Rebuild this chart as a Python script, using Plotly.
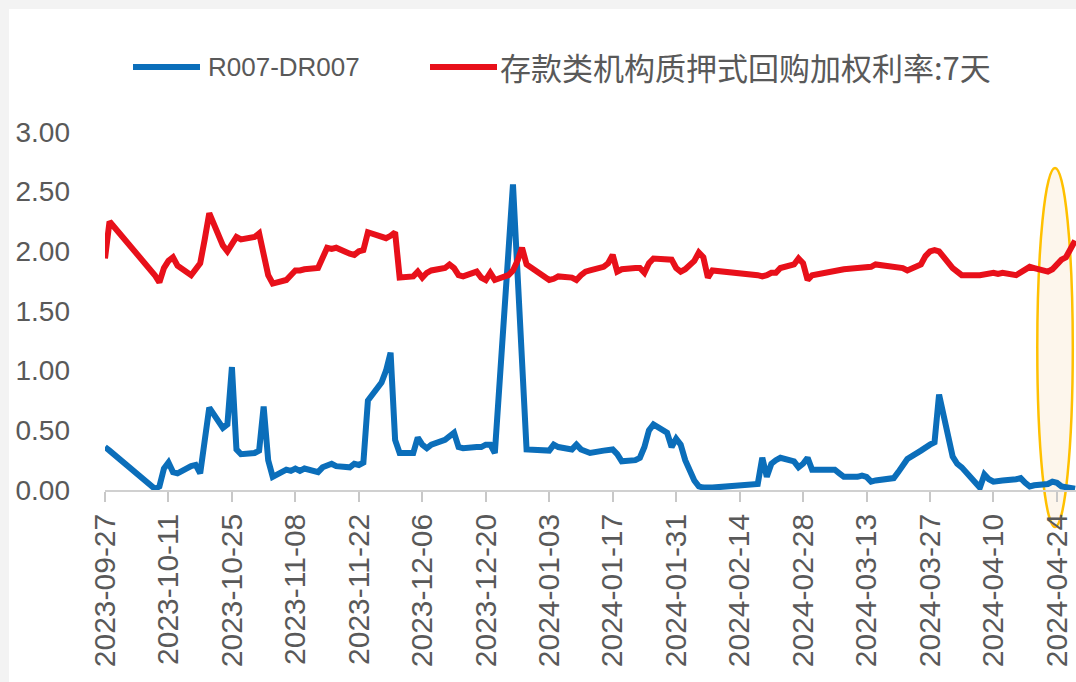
import plotly.graph_objects as go

# ---------------- data ----------------
blue_name = "R007-DR007"
red_name = "存款类机构质押式回购加权利率:7天"

blue_dates = [
    "2023-09-27", "2023-09-28", "2023-10-08", "2023-10-09", "2023-10-10", "2023-10-11",
    "2023-10-12", "2023-10-13", "2023-10-16", "2023-10-17", "2023-10-18", "2023-10-19",
    "2023-10-20", "2023-10-23", "2023-10-24", "2023-10-25", "2023-10-26", "2023-10-27",
    "2023-10-30", "2023-10-31", "2023-11-01", "2023-11-02", "2023-11-03", "2023-11-06",
    "2023-11-07", "2023-11-08", "2023-11-09", "2023-11-10", "2023-11-13", "2023-11-14",
    "2023-11-15", "2023-11-16", "2023-11-17", "2023-11-20", "2023-11-21", "2023-11-22",
    "2023-11-23", "2023-11-24", "2023-11-27", "2023-11-28", "2023-11-29", "2023-11-30",
    "2023-12-01", "2023-12-04", "2023-12-05", "2023-12-06", "2023-12-07", "2023-12-08",
    "2023-12-11", "2023-12-12", "2023-12-13", "2023-12-14", "2023-12-15", "2023-12-18",
    "2023-12-19", "2023-12-20", "2023-12-21", "2023-12-22", "2023-12-26", "2023-12-29",
    "2024-01-02", "2024-01-03", "2024-01-04", "2024-01-05", "2024-01-08", "2024-01-09",
    "2024-01-10", "2024-01-11", "2024-01-12", "2024-01-15", "2024-01-16", "2024-01-17",
    "2024-01-18", "2024-01-19", "2024-01-22", "2024-01-23", "2024-01-24", "2024-01-25",
    "2024-01-26", "2024-01-29", "2024-01-30", "2024-01-31", "2024-02-01", "2024-02-02",
    "2024-02-04", "2024-02-05", "2024-02-06", "2024-02-07", "2024-02-08", "2024-02-18",
    "2024-02-19", "2024-02-20", "2024-02-21", "2024-02-22", "2024-02-23", "2024-02-26",
    "2024-02-27", "2024-02-28", "2024-02-29", "2024-03-01", "2024-03-04", "2024-03-05",
    "2024-03-06", "2024-03-07", "2024-03-08", "2024-03-11", "2024-03-12", "2024-03-13",
    "2024-03-14", "2024-03-15", "2024-03-18", "2024-03-19", "2024-03-20", "2024-03-21",
    "2024-03-22", "2024-03-25", "2024-03-26", "2024-03-27", "2024-03-28", "2024-03-29",
    "2024-04-01", "2024-04-02", "2024-04-03", "2024-04-07", "2024-04-08", "2024-04-09",
    "2024-04-10", "2024-04-11", "2024-04-12", "2024-04-15", "2024-04-16", "2024-04-17",
    "2024-04-18", "2024-04-19", "2024-04-22", "2024-04-23", "2024-04-24", "2024-04-25",
    "2024-04-26", "2024-04-28",
]
blue_vals = [
    0.36, 0.33, 0.01, 0.03, 0.18, 0.23,
    0.15, 0.14, 0.20, 0.21, 0.14, 0.45,
    0.69, 0.52, 0.55, 1.03, 0.34, 0.30,
    0.31, 0.33, 0.70, 0.25, 0.11, 0.17,
    0.16, 0.18, 0.16, 0.18, 0.15, 0.19,
    0.21, 0.22, 0.20, 0.19, 0.22, 0.21,
    0.23, 0.75, 0.90, 1.00, 1.15, 0.42,
    0.31, 0.31, 0.44, 0.38, 0.35, 0.38,
    0.42, 0.45, 0.48, 0.36, 0.35, 0.36,
    0.36, 0.38, 0.38, 0.31, 2.56, 0.34,
    0.33, 0.33, 0.38, 0.36, 0.34, 0.38,
    0.34, 0.33, 0.31, 0.33, 0.33, 0.34,
    0.30, 0.24, 0.25, 0.27, 0.36, 0.50,
    0.55, 0.48, 0.36, 0.43, 0.38, 0.25,
    0.08, 0.03, 0.02, 0.02, 0.02, 0.05,
    0.27, 0.11, 0.22, 0.25, 0.27, 0.24,
    0.19, 0.22, 0.27, 0.17, 0.17, 0.17,
    0.17, 0.14, 0.11, 0.11, 0.12, 0.11,
    0.07, 0.08, 0.09, 0.10, 0.15, 0.21,
    0.26, 0.33, 0.36, 0.38, 0.40, 0.80,
    0.28, 0.22, 0.19, 0.02, 0.13, 0.09,
    0.07, 0.07, 0.08, 0.09, 0.10, 0.06,
    0.03, 0.04, 0.05, 0.07, 0.06, 0.03,
    0.02, 0.01,
]

red_dates = [
    "2023-09-27", "2023-09-28", "2023-10-08", "2023-10-09", "2023-10-10", "2023-10-11",
    "2023-10-12", "2023-10-13", "2023-10-16", "2023-10-17", "2023-10-18", "2023-10-19",
    "2023-10-20", "2023-10-23", "2023-10-24", "2023-10-25", "2023-10-26", "2023-10-27",
    "2023-10-30", "2023-10-31", "2023-11-01", "2023-11-02", "2023-11-03", "2023-11-06",
    "2023-11-07", "2023-11-08", "2023-11-09", "2023-11-10", "2023-11-13", "2023-11-14",
    "2023-11-15", "2023-11-16", "2023-11-17", "2023-11-20", "2023-11-21", "2023-11-22",
    "2023-11-23", "2023-11-24", "2023-11-27", "2023-11-28", "2023-11-29", "2023-11-30",
    "2023-12-01", "2023-12-04", "2023-12-05", "2023-12-06", "2023-12-07", "2023-12-08",
    "2023-12-11", "2023-12-12", "2023-12-13", "2023-12-14", "2023-12-15", "2023-12-18",
    "2023-12-19", "2023-12-20", "2023-12-21", "2023-12-22", "2023-12-25", "2023-12-26",
    "2023-12-27", "2023-12-28", "2023-12-29", "2024-01-02", "2024-01-03", "2024-01-04",
    "2024-01-05", "2024-01-08", "2024-01-09", "2024-01-10", "2024-01-11", "2024-01-12",
    "2024-01-15", "2024-01-16", "2024-01-17", "2024-01-18", "2024-01-19", "2024-01-22",
    "2024-01-23", "2024-01-24", "2024-01-25", "2024-01-26", "2024-01-29", "2024-01-30",
    "2024-01-31", "2024-02-01", "2024-02-02", "2024-02-04", "2024-02-05", "2024-02-06",
    "2024-02-07", "2024-02-08", "2024-02-18", "2024-02-19", "2024-02-20", "2024-02-21",
    "2024-02-22", "2024-02-23", "2024-02-26", "2024-02-27", "2024-02-28", "2024-02-29",
    "2024-03-01", "2024-03-04", "2024-03-05", "2024-03-06", "2024-03-07", "2024-03-08",
    "2024-03-11", "2024-03-12", "2024-03-13", "2024-03-14", "2024-03-15", "2024-03-18",
    "2024-03-19", "2024-03-20", "2024-03-21", "2024-03-22", "2024-03-25", "2024-03-26",
    "2024-03-27", "2024-03-28", "2024-03-29", "2024-04-01", "2024-04-02", "2024-04-03",
    "2024-04-07", "2024-04-08", "2024-04-09", "2024-04-10", "2024-04-11", "2024-04-12",
    "2024-04-15", "2024-04-16", "2024-04-17", "2024-04-18", "2024-04-19", "2024-04-22",
    "2024-04-23", "2024-04-24", "2024-04-25", "2024-04-26", "2024-04-28",
]
red_vals = [
    1.94, 2.25, 1.80, 1.74, 1.86, 1.92,
    1.95, 1.88, 1.80, 1.85, 1.90, 2.10,
    2.32, 2.05, 2.00, 2.06, 2.12, 2.10,
    2.12, 2.15, 1.95, 1.80, 1.73, 1.76,
    1.80, 1.84, 1.84, 1.85, 1.86, 1.95,
    2.03, 2.02, 2.03, 1.98, 1.97, 2.00,
    2.01, 2.16, 2.13, 2.11, 2.13, 2.16,
    1.78, 1.79, 1.83, 1.78, 1.82, 1.84,
    1.86, 1.89, 1.86, 1.80, 1.79, 1.83,
    1.78, 1.76, 1.82, 1.76, 1.80, 1.84,
    1.92, 2.03, 1.89, 1.78, 1.76, 1.77,
    1.79, 1.78, 1.76, 1.80, 1.83, 1.84,
    1.87, 1.90, 1.97, 1.83, 1.85, 1.86,
    1.86, 1.82, 1.90, 1.94, 1.93, 1.93,
    1.86, 1.83, 1.85, 1.92, 1.99, 1.95,
    1.78, 1.84, 1.80, 1.79, 1.80, 1.82,
    1.82, 1.86, 1.89, 1.94, 1.90, 1.76,
    1.80, 1.82, 1.83, 1.84, 1.84, 1.85,
    1.86, 1.86, 1.86, 1.87, 1.89, 1.88,
    1.87, 1.87, 1.86, 1.84, 1.89, 1.96,
    2.00, 2.01, 2.00, 1.86, 1.83, 1.80,
    1.80, 1.81, 1.81, 1.82, 1.81, 1.82,
    1.80, 1.82, 1.84, 1.87, 1.86, 1.83,
    1.85, 1.90, 1.93, 1.95, 2.09,
]

x_tick_vals = [
    "2023-09-27", "2023-10-11", "2023-10-25", "2023-11-08", "2023-11-22", "2023-12-06",
    "2023-12-20", "2024-01-03", "2024-01-17", "2024-01-31", "2024-02-14", "2024-02-28",
    "2024-03-13", "2024-03-27", "2024-04-10", "2024-04-24",
]
y_tick_vals = [0.0, 0.5, 1.0, 1.5, 2.0, 2.5, 3.0]
x_range = ["2023-09-27", "2024-04-28 05:00"]
y_range = [0, 3]
highlight_range = ["2024-04-19 16:00", "2024-04-27 12:00"]

# ---------------- styling / layout ----------------
W, H = 1076, 682
L, R, T, B = 105, 1076, 132, 490
BLUE = "#0b6eba"
RED = "#e8101a"
GREY = "#595959"


def px_x(p):
    return (p - L) / (R - L)


def px_y(p):
    return (B - p) / (B - T)


fig = go.Figure()
fig.add_trace(go.Scatter(x=blue_dates, y=blue_vals, mode="lines", name=blue_name,
                         line=dict(color=BLUE, width=6), showlegend=False))
fig.add_trace(go.Scatter(x=red_dates, y=red_vals, mode="lines", name=red_name,
                         line=dict(color=RED, width=6), showlegend=False))

shapes = [
    # light grey frame at top/left edge of the picture
    dict(type="rect", xref="paper", yref="paper", layer="below",
         x0=px_x(9), x1=px_x(W + 5), y0=px_y(H + 5), y1=px_y(9),
         fillcolor="white", line=dict(width=0)),
    # highlighted ellipse
    dict(type="circle", xref="x", yref="paper", layer="below",
         x0=highlight_range[0], x1=highlight_range[1],
         y0=px_y(527), y1=px_y(168),
         fillcolor="rgba(252,238,220,0.55)",
         line=dict(color="#FFC000", width=2.5)),
    # custom legend samples
    dict(type="line", xref="paper", yref="paper", x0=px_x(133), x1=px_x(200),
         y0=px_y(67), y1=px_y(67), line=dict(color=BLUE, width=6)),
    dict(type="line", xref="paper", yref="paper", x0=px_x(430), x1=px_x(497),
         y0=px_y(67), y1=px_y(67), line=dict(color=RED, width=6)),
]

annotations = [
    dict(text=blue_name, xref="paper", yref="paper", x=px_x(206), y=px_y(67),
         xanchor="left", yanchor="middle", showarrow=False,
         font=dict(family="Liberation Sans, Arial", size=26, color=GREY)),
    dict(text=red_name, xref="paper", yref="paper", x=px_x(498), y=px_y(67),
         xanchor="left", yanchor="middle", showarrow=False,
         font=dict(family="Noto Sans CJK SC, Liberation Sans", size=31, color=GREY)),
]

fig.update_layout(
    width=W, height=H,
    margin=dict(l=L, r=W - R, t=T, b=H - B, pad=0),
    paper_bgcolor="#f3f3f3",
    plot_bgcolor="rgba(0,0,0,0)",
    showlegend=False,
    shapes=shapes,
    annotations=annotations,
    xaxis=dict(
        type="date", range=x_range,
        tickmode="array", tickvals=x_tick_vals, ticktext=x_tick_vals,
        tickangle=-90,
        tickfont=dict(family="Liberation Sans, Arial", size=30, color=GREY),
        showgrid=False, zeroline=False,
        showline=True, linecolor="#d0d0d0", linewidth=1.5,
        ticks="outside", ticklen=10, tickcolor="#c8c8c8", tickwidth=1.5,
        ticklabelstandoff=0,
    ),
    yaxis=dict(
        range=y_range, tickmode="array", tickvals=y_tick_vals, tickformat=".2f",
        tickfont=dict(family="Liberation Sans, Arial", size=28, color=GREY),
        showgrid=False, zeroline=False, showline=False, ticks="",
        ticklabelstandoff=34,
    ),
)

fig.write_html("out.html")
